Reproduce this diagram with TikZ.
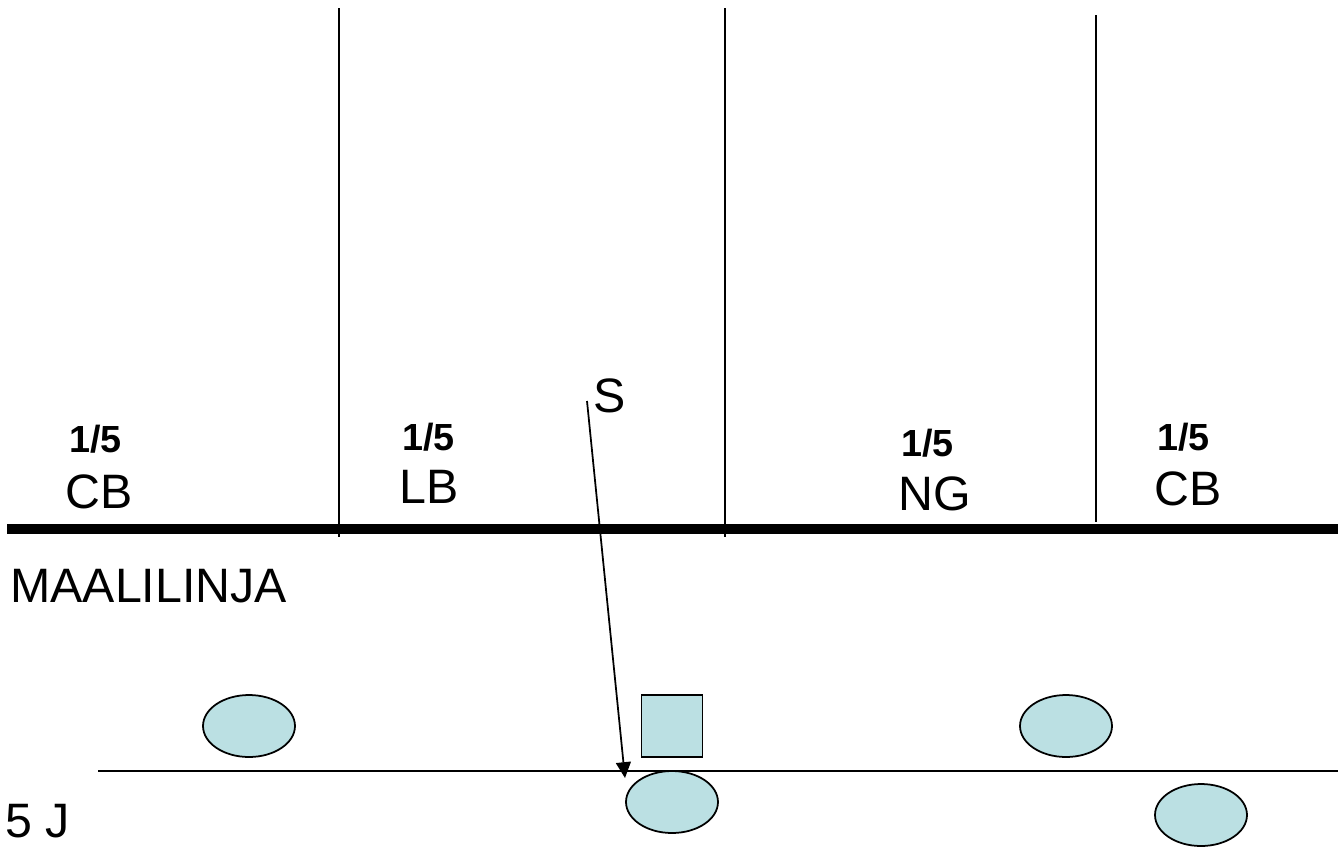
\documentclass[tikz,border=0pt]{standalone}
\usepackage{fontspec}
\setmainfont{Liberation Sans}
\usetikzlibrary{shapes.geometric,arrows.meta}
\definecolor{player}{HTML}{BBE0E3}

\begin{document}
\begin{tikzpicture}[x=0.02cm,y=-0.02cm,
    zonetext/.style={anchor=base west,inner sep=0pt,font=\fontsize{27.5}{32}\selectfont},
    fractext/.style={anchor=base west,inner sep=0pt,font=\fontsize{21.5}{26}\selectfont\bfseries},
    oppo/.style={ellipse,draw,line width=1pt,fill=player,minimum width=1.84cm,minimum height=1.24cm,inner sep=0pt},
    own/.style={rectangle,draw,line width=1pt,fill=player,minimum width=1.22cm,minimum height=1.24cm,inner sep=0pt}]
  \useasboundingbox (0,0) rectangle (1343,846);
  % goal line and zone dividers
  \draw[line width=6.2pt] (7,529)--(1338,529);
  \draw[line width=0.9pt] (339,8)--(339,537);
  \draw[line width=0.9pt] (725,8)--(725,537);
  \draw[line width=0.9pt] (1096,15)--(1096,522);
  % 5 m line
  \draw[line width=1.1pt] (98,771)--(1338,771);
  % zone labels
  \node[fractext] (f1) at (69,452) {1/5};
  \node[zonetext] (z1) at (65,508) {CB};
  \node[fractext] (f2) at (402,450) {1/5};
  \node[zonetext] (z2) at (399,503) {LB};
  \node[fractext] (f3) at (901,456) {1/5};
  \node[zonetext] (z3) at (898,510) {NG};
  \node[fractext] (f4) at (1157,450) {1/5};
  \node[zonetext] (z4) at (1154,505) {CB};
  \node[zonetext] (goal) at (10,602) {MAALILINJA};
  \node[zonetext] (five) at (5,837) {5 J};
  \node[zonetext] (s) at (593,412) {S};
  % players
  \node[oppo] (o1) at (249,726) {};
  \node[oppo] (o2) at (1066,726) {};
  \node[oppo] (o3) at (672,802) {};
  \node[oppo] (o4) at (1201,815) {};
  \node[own] (p1) at (672,726) {};
  % pass
  \coordinate (a) at (587,401);
  \coordinate (b) at (625,778);
  \draw[line width=1pt,-{Triangle[length=9pt,width=8.5pt]}] (a)--(b);
\end{tikzpicture}
\end{document}
